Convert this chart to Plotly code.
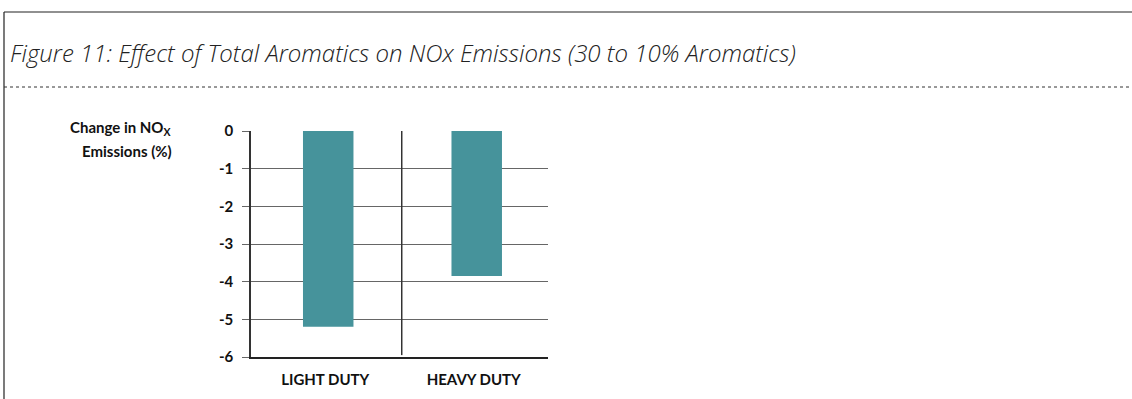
import plotly.graph_objects as go

# Chart data
categories = ["LIGHT DUTY", "HEAVY DUTY"]
nox_change = [-5.2, -3.85]
y_ticks = [0, -1, -2, -3, -4, -5, -6]

W, H = 1132, 399
L, R, T, B = 251, 548, 131, 357  # plot area in pixels


def px_x(px):
    return (px - L) / (R - L)


def px_y(py):
    return (B - py) / (B - T)


bar_color = "#46939b"
label_font = dict(family="Lato, sans-serif", size=15, color="#111", weight="bold")

fig = go.Figure()
fig.add_trace(go.Bar(
    x=categories, y=nox_change, marker_color=bar_color, marker_line_width=0,
    width=0.34, offset=-0.15, showlegend=False,
))

shapes = [
    # outer frame: left and top edges
    dict(type="line", xref="paper", yref="paper", x0=px_x(4), x1=px_x(4), y0=px_y(12), y1=px_y(H + 5),
         line=dict(color="#222", width=1.2)),
    dict(type="line", xref="paper", yref="paper", x0=px_x(4), x1=px_x(W + 5), y0=px_y(12), y1=px_y(12),
         line=dict(color="#222", width=1.2)),
    # dotted separator under the heading
    dict(type="line", xref="paper", yref="paper", x0=px_x(4), x1=px_x(W + 5), y0=px_y(87), y1=px_y(87),
         line=dict(color="#333", width=1, dash="dot")),
    # divider between categories
    dict(type="line", xref="x", yref="y", x0=0.515, x1=0.515, y0=0, y1=-5.95,
         line=dict(color="#333", width=1.5)),
]

annotations = [
    dict(text="Figure 11: Effect of Total Aromatics on NOx Emissions (30 to 10% Aromatics)",
         xref="paper", yref="paper", x=px_x(8), y=px_y(52), xanchor="left", yanchor="middle",
         showarrow=False,
         font=dict(family="Open Sans, sans-serif", size=24, color="#222", style="italic", weight=300)),
    # y-axis caption, two lines
    dict(text="Change in NO<sub>X</sub>",
         xref="paper", yref="paper", x=px_x(174), y=px_y(128), xanchor="right", yanchor="middle",
         showarrow=False, font=label_font),
    dict(text="Emissions (%)",
         xref="paper", yref="paper", x=px_x(174), y=px_y(151), xanchor="right", yanchor="middle",
         showarrow=False, font=label_font),
]

fig.update_layout(
    width=W, height=H,
    margin=dict(l=L, r=W - R, t=T, b=H - B, pad=0),
    paper_bgcolor="white", plot_bgcolor="white",
    shapes=shapes, annotations=annotations,
    xaxis=dict(
        type="category", range=[-0.5, 1.5], showgrid=False, ticks="",
        showline=True, linecolor="#222", linewidth=2,
        tickfont=label_font, ticklabelstandoff=8,
    ),
    yaxis=dict(
        range=[-6, 0], tickvals=y_ticks, ticktext=[str(v) for v in y_ticks],
        showgrid=True, gridcolor="#666", gridwidth=1.3,
        zeroline=False, ticks="outside", ticklen=7, tickcolor="#666", tickwidth=1.3,
        showline=True, linecolor="#333", linewidth=1.5,
        tickfont=label_font, ticklabelstandoff=6,
    ),
)

fig.write_html("out.html")
